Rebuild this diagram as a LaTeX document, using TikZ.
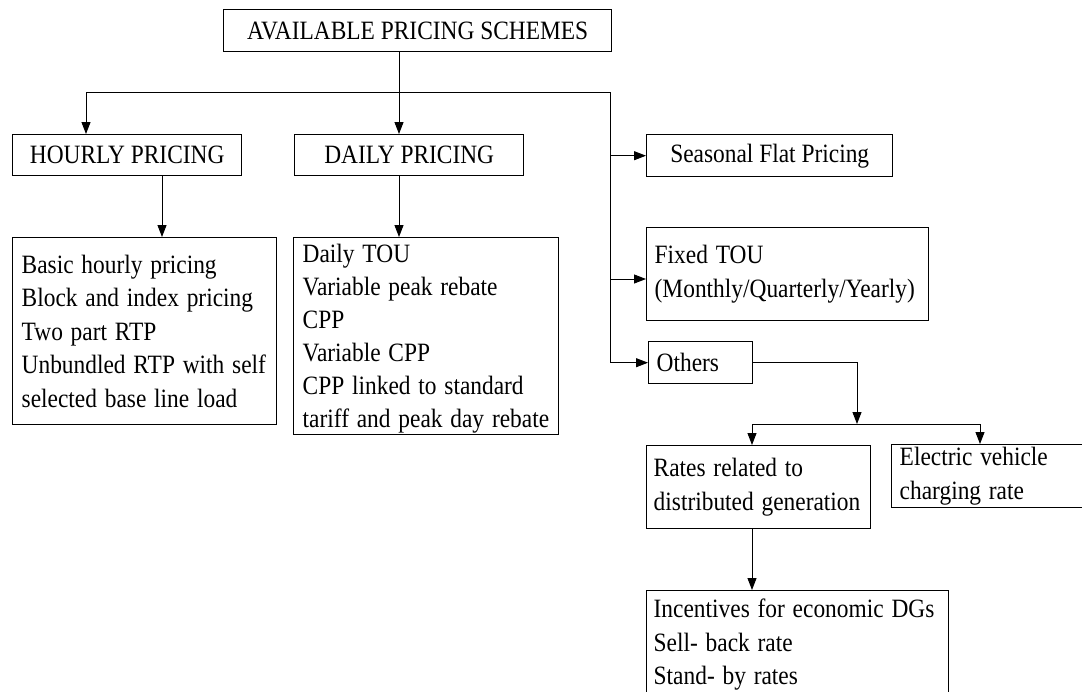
\documentclass[tikz,border=0pt]{standalone}
\usepackage{fontspec}
\usepackage{graphicx}
\setmainfont{Liberation Serif}
\usetikzlibrary{arrows.meta}
\newcommand\boxfont{\fontsize{23.4}{33.5}\selectfont}
% glyphs set slightly taller than their natural proportions
\newcommand\tl[1]{\scalebox{1}[1.13]{#1}}
\tikzset{
  box/.style={draw, line width=1.4pt, rectangle, anchor=north west,
    inner sep=0pt, font=\boxfont},
  listbox/.style={box, align=left},
  link/.style={line width=1pt},
  arr/.style={link, -{Triangle[length=12pt,width=9pt]}},
}
\begin{document}
\begin{tikzpicture}[x=1pt, y=-1pt]
\useasboundingbox (0,0) rectangle (1082,691);
\clip (0,0) rectangle (1082,691);
\fill[white] (0,0) rectangle (1082,691);

% boxes
\node[box, minimum width=388pt, minimum height=42pt] (top) at (223,9) {\tl{AVAILABLE PRICING SCHEMES}};
\node[box, minimum width=229pt, minimum height=41pt] (hourly) at (12,134) {\tl{HOURLY PRICING}};
\node[box, minimum width=229pt, minimum height=41pt] (daily) at (294,134) {\tl{DAILY PRICING}};
\node[listbox, minimum width=264pt, minimum height=187pt, inner xsep=9pt, text width=246pt] (hlist) at (12,237)
  {\tl{Basic hourly pricing}\\\tl{Block and index pricing}\\\tl{Two part RTP}\\\tl{Unbundled RTP with self}\\\tl{selected base line load}};
\node[listbox, font={\fontsize{23.4}{33}\selectfont}, minimum width=265pt, minimum height=197pt,
  inner xsep=9pt, text width=247pt] (dlist) at (293,237)
  {\rule{0pt}{24pt}\tl{Daily TOU}\\\tl{Variable peak rebate}\\\tl{CPP}\\\tl{Variable CPP}\\\tl{CPP linked to standard}\\\tl{tariff and peak day rebate}};
\node[box, minimum width=246pt, minimum height=42pt] (seasonal) at (646,134) {\tl{Seasonal Flat Pricing}};
\node[listbox, minimum width=282pt, minimum height=93pt, inner xsep=8pt, text width=266pt] (fixed) at (646,227)
  {\tl{Fixed TOU}\\\tl{(Monthly/Quarterly/Yearly)}};
\node[listbox, minimum width=104pt, minimum height=42pt, inner xsep=8pt, text width=88pt] (others) at (648,341) {\tl{Others}};
\node[listbox, minimum width=224pt, minimum height=83pt, inner xsep=7pt, text width=210pt] (rates) at (646,445)
  {\tl{Rates related to}\\\tl{distributed generation}};
\node[listbox, minimum width=200pt, minimum height=63pt, inner xsep=8pt, text width=184pt] (ev) at (891,444)
  {\tl{Electric vehicle}\\\tl{charging rate}};
\node[listbox, minimum width=302pt, minimum height=108pt, inner xsep=7pt, text width=288pt] (inc) at (646,590)
  {\tl{Incentives for economic DGs}\\\tl{Sell- back rate}\\\tl{Stand- by rates}};

% junction points of the connectors
\coordinate (lt) at (86,92);
\coordinate (mid) at (399,92);
\coordinate (rt) at (610,92);
\coordinate (hx) at (162,175);
\coordinate (fx) at (610,279);
\coordinate (oj) at (857,424);
\coordinate (ra) at (752,424);
\coordinate (eva) at (980,424);

% connectors
\draw[link] (lt) -- (rt) -- (rt |- others.west);
\draw[arr] (top.south -| mid) -- (daily.north -| mid);
\draw[arr] (lt) -- (hourly.north -| lt);
\draw[arr] (hourly.south -| hx) -- (hlist.north -| hx);
\draw[arr] (daily.south -| mid) -- (dlist.north -| mid);
\draw[arr] (rt |- seasonal.west) -- (seasonal.west);
\draw[arr] (fx) -- (fx -| fixed.west);
\draw[arr] (rt |- others.west) -- (others.west);
\draw[arr] (others.east) -| (oj);
\draw[link] (ra) -- (eva);
\draw[arr] (ra) -- (ra |- rates.north);
\draw[arr] (eva) -- (eva |- ev.north);
\draw[arr] (rates.south -| ra) -- (inc.north -| ra);
\end{tikzpicture}
\end{document}
